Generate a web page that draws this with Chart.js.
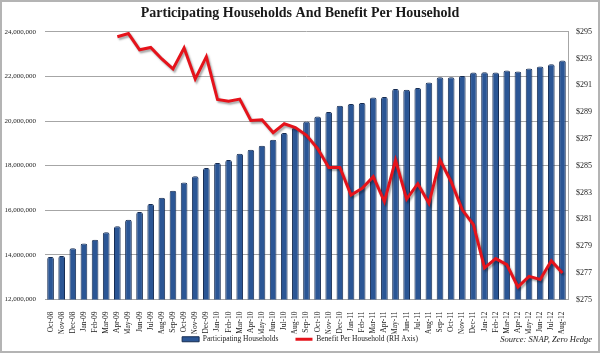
<!DOCTYPE html>
<html>
<head>
<meta charset="utf-8">
<script src="https://cdn.jsdelivr.net/npm/chart.js@4/dist/chart.umd.min.js"></script>
<style>
  html, body { margin: 0; padding: 0; background: #fff; }
  #wrap { width: 600px; height: 353px; position: relative; }
  canvas { display: block; }
</style>
</head>
<body>
<div id="wrap"><canvas id="snapChart" width="600" height="353"></canvas></div>
<script>
const months = [
  'Oct-08', 'Nov-08', 'Dec-08',
  'Jan-09', 'Feb-09', 'Mar-09', 'Apr-09', 'May-09', 'Jun-09', 'Jul-09', 'Aug-09', 'Sep-09', 'Oct-09', 'Nov-09', 'Dec-09',
  'Jan-10', 'Feb-10', 'Mar-10', 'Apr-10', 'May-10', 'Jun-10', 'Jul-10', 'Aug-10', 'Sep-10', 'Oct-10', 'Nov-10', 'Dec-10',
  'Jan-11', 'Feb-11', 'Mar-11', 'Apr-11', 'May-11', 'Jun-11', 'Jul-11', 'Aug-11', 'Sep-11', 'Oct-11', 'Nov-11', 'Dec-11',
  'Jan-12', 'Feb-12', 'Mar-12', 'Apr-12', 'May-12', 'Jun-12', 'Jul-12', 'Aug-12'
];

const households = [
  13910000, 13950000, 14300000,
  14510000, 14680000, 15010000, 15280000, 15580000, 15920000, 16280000, 16560000, 16880000, 17250000, 17530000, 17890000,
  18120000, 18250000, 18530000, 18710000, 18890000, 19160000, 19460000, 19710000, 19980000, 20200000, 20410000, 20680000,
  20760000, 20810000, 21050000, 21080000, 21440000, 21400000, 21480000, 21730000, 21960000, 21960000, 22020000, 22170000,
  22190000, 22170000, 22260000, 22220000, 22350000, 22450000, 22540000, 22710000
];

const benefit = [
  null, null, null,
  null, null, null, 294.63, 294.87, 293.66, 293.83, 292.97, 292.23, 293.79, 291.48, 293.14,
  289.94, 289.82, 289.97, 288.38, 288.42, 287.47, 288.13, 287.84, 287.27, 286.28, 284.87, 284.87,
  282.81, 283.30, 284.17, 282.31, 285.41, 282.50, 283.65, 282.19, 285.41, 283.80, 281.70, 280.60,
  277.36, 278.05, 277.60, 275.94, 276.73, 276.49, 277.90, 276.98
];

const leftTicks = { min: 12000000, max: 24000000, step: 2000000 };
const rightTicks = { min: 275, max: 295, step: 2 };

const serif = '"Liberation Serif", "DejaVu Serif", serif';
const barBlue = '#2b5695';
const barEdge = '#162c52';
const lineRed = '#e5131b';

// white page, grey frame and the source note
const framePlugin = {
  id: 'frame',
  beforeDraw(chart) {
    const { ctx, width, height } = chart;
    ctx.save();
    ctx.fillStyle = '#fff';
    ctx.fillRect(0, 0, width, height);
    ctx.restore();
  },
  afterDraw(chart) {
    const { ctx, width, height } = chart;
    ctx.save();
    ctx.strokeStyle = '#b4b4b4';
    ctx.lineWidth = 2;
    ctx.strokeRect(1, 1, width - 2, height - 2);
    ctx.fillStyle = '#222';
    ctx.font = 'italic 8.5px ' + serif;
    ctx.textAlign = 'right';
    ctx.textBaseline = 'middle';
    ctx.fillText('Source: SNAP, Zero Hedge', 592, 340);
    ctx.restore();
  }
};

// soft shadow under the red line, like the original
const shadowPlugin = {
  id: 'lineShadow',
  beforeDatasetDraw(chart, args) {
    if (args.meta.type !== 'line') return;
    const ctx = chart.ctx;
    ctx.save();
    ctx.shadowColor = 'rgba(0,0,0,0.35)';
    ctx.shadowBlur = 2;
    ctx.shadowOffsetX = 1.5;
    ctx.shadowOffsetY = 2;
  },
  afterDatasetDraw(chart, args) {
    if (args.meta.type !== 'line') return;
    chart.ctx.restore();
  }
};

document.addEventListener('DOMContentLoaded', () => {
  const el = document.getElementById('snapChart');

  new Chart(el, {
    data: {
      labels: months,
      datasets: [
        {
          type: 'line',
          label: 'Benefit Per Household (RH Axis)',
          data: benefit,
          yAxisID: 'y1',
          borderColor: lineRed,
          backgroundColor: lineRed,
          borderWidth: 3,
          pointRadius: 0,
          tension: 0,
          order: 0
        },
        {
          type: 'bar',
          label: 'Participating Households',
          data: households,
          yAxisID: 'y',
          backgroundColor: barBlue,
          borderColor: barEdge,
          borderWidth: 1,
          borderRadius: 2,
          borderSkipped: 'bottom',
          barPercentage: 0.6,
          categoryPercentage: 1,
          order: 1
        }
      ]
    },
    options: {
      responsive: false,
      animation: false,
      devicePixelRatio: 1,
      layout: { padding: 0 },
      plugins: {
        title: {
          display: true,
          text: 'Participating Households And Benefit Per Household',
          color: '#1a1a1a',
          font: { family: serif, size: 14, weight: 'bold' },
          padding: { top: 5, bottom: 10 }
        },
        legend: {
          position: 'bottom',
          labels: {
            color: '#222',
            font: { family: serif, size: 7.5 },
            usePointStyle: true,
            pointStyleWidth: 17,
            boxWidth: 17,
            boxHeight: 5,
            padding: 2,
            generateLabels: chart => {
              const sets = chart.data.datasets;
              return [1, 0].map(i => ({
                // trailing gap keeps the two entries apart like the original
                text: sets[i].label + (i === 1 ? '\u00a0'.repeat(8) : ''),
                fillStyle: sets[i].type === 'bar' ? barBlue : lineRed,
                strokeStyle: sets[i].type === 'bar' ? barEdge : lineRed,
                lineWidth: sets[i].type === 'bar' ? 1 : 3,
                pointStyle: sets[i].type === 'bar' ? 'rect' : 'line',
                fontColor: '#222',
                hidden: !chart.isDatasetVisible(i),
                datasetIndex: i
              }));
            }
          }
        },
        tooltip: { enabled: false }
      },
      scales: {
        x: {
          grid: { display: false },
          border: { display: true, color: '#a6a6a6' },
          ticks: {
            color: '#222',
            font: { family: serif, size: 7.5 },
            autoSkip: false,
            minRotation: 90,
            maxRotation: 90,
            padding: 4
          },
          afterFit: scale => { scale.height = 34; }
        },
        y: {
          position: 'left',
          min: leftTicks.min,
          max: leftTicks.max,
          grid: { color: '#a6a6a6', drawTicks: false },
          border: { display: false },
          ticks: {
            stepSize: leftTicks.step,
            color: '#222',
            font: { family: serif, size: 7 },
            padding: 9,
            callback: v => v.toLocaleString('en-US')
          },
          afterFit: scale => { scale.width = 45; }
        },
        y1: {
          position: 'right',
          min: rightTicks.min,
          max: rightTicks.max,
          grid: { display: false, drawTicks: false, tickLength: 0 },
          border: { display: true, color: '#a6a6a6' },
          ticks: {
            stepSize: rightTicks.step,
            color: '#222',
            font: { family: serif, size: 8 },
            padding: 8,
            callback: v => '$' + v
          },
          afterFit: scale => { scale.width = 32; }
        }
      }
    },
    plugins: [framePlugin, shadowPlugin]
  });
});
</script>
</body>
</html>
